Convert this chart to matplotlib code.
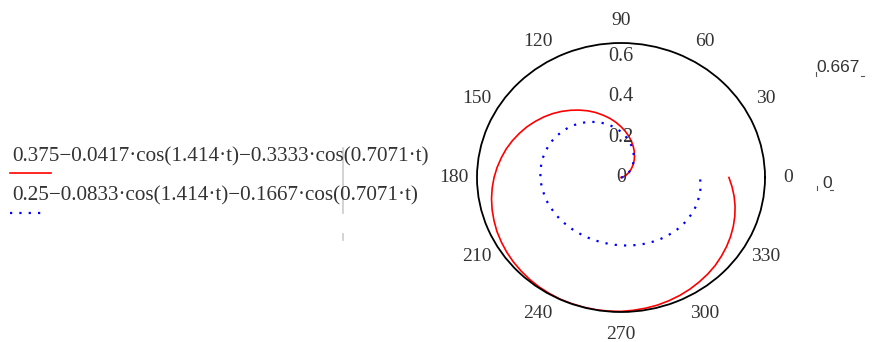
import numpy as np
import matplotlib.pyplot as plt

# angle (deg) and radius, 5 degree steps
theta_deg = list(range(0, 361, 5))
r_red = [0.000, 0.001, 0.004, 0.009, 0.015, 0.023, 0.034, 0.045, 0.059, 0.073,
         0.089, 0.107, 0.125, 0.145, 0.165, 0.186, 0.208, 0.230, 0.252, 0.275,
         0.298, 0.320, 0.343, 0.365, 0.386, 0.407, 0.428, 0.448, 0.467, 0.485,
         0.503, 0.519, 0.535, 0.550, 0.563, 0.576, 0.588, 0.599, 0.609, 0.618,
         0.626, 0.634, 0.640, 0.646, 0.651, 0.655, 0.659, 0.662, 0.664, 0.666,
         0.666, 0.666, 0.666, 0.665, 0.664, 0.661, 0.658, 0.655, 0.650, 0.645,
         0.639, 0.632, 0.625, 0.617, 0.607, 0.597, 0.586, 0.574, 0.561, 0.547,
         0.532, 0.516, 0.500]
r_blue = [0.000, 0.001, 0.004, 0.008, 0.015, 0.023, 0.033, 0.045, 0.057, 0.071,
          0.087, 0.103, 0.119, 0.137, 0.155, 0.173, 0.191, 0.209, 0.227, 0.244,
          0.260, 0.276, 0.291, 0.304, 0.317, 0.329, 0.339, 0.348, 0.355, 0.362,
          0.367, 0.371, 0.373, 0.375, 0.375, 0.375, 0.373, 0.371, 0.368, 0.365,
          0.362, 0.358, 0.354, 0.351, 0.347, 0.344, 0.341, 0.338, 0.336, 0.335,
          0.334, 0.333, 0.334, 0.335, 0.336, 0.339, 0.341, 0.344, 0.348, 0.351,
          0.355, 0.359, 0.362, 0.366, 0.369, 0.372, 0.373, 0.375, 0.375, 0.374,
          0.373, 0.370, 0.366]

angle_ticks = [0, 30, 60, 90, 120, 150, 180, 210, 240, 270, 300, 330]
r_ticks = [0, 0.2, 0.4, 0.6]
r_max = 0.667

legend_red = "0.375\u22120.0417\u00b7cos(1.414\u00b7t)\u22120.3333\u00b7cos(0.7071\u00b7t)"
legend_blue = "0.25\u22120.0833\u00b7cos(1.414\u00b7t)\u22120.1667\u00b7cos(0.7071\u00b7t)"

serif = "Liberation Serif"
txt = "#333333"

fig = plt.figure(figsize=(8.72, 3.42), dpi=100)
ax = fig.add_axes([477 / 872, 30 / 342, 288 / 872, 269 / 342], projection="polar")
ax.set_aspect("auto")

th = np.radians(theta_deg)
ax.plot(th, r_red, color="red", lw=1.2)
ax.plot(th, r_blue, color="blue", lw=1.6, dashes=(1, 3.2))

ax.set_ylim(0, r_max)
ax.grid(False)
ax.spines["polar"].set_color("black")
ax.spines["polar"].set_linewidth(1.3)
ax.set_thetagrids(angle_ticks, [str(a) for a in angle_ticks],
                  fontsize=14, family=serif, color=txt)
ax.tick_params(axis="x", pad=9.5, length=0)
ax.set_yticks([])
for rv in r_ticks:
    lab = "0" if rv == 0 else f"{rv:.1f}"
    ax.text(np.pi / 2, rv, lab, ha="center", va="center",
            fontsize=14.5, family=serif, color=txt)

# range labels on the right
fig.text(838 / 872, 1 - 68 / 342, "0.667", ha="center", va="center",
         fontsize=12.5, family="Liberation Sans", color=txt)
fig.text(827 / 872, 1 - 183 / 342, "0", ha="center", va="center",
         fontsize=12.5, family="Liberation Sans", color=txt)
for x0, y0, x1 in [(816, 76, 864), (817, 190, 833)]:
    fig.add_artist(plt.Line2D([x0 / 872] * 2, [1 - (y0 - 4) / 342, 1 - y0 / 342],
                              color="#555555", lw=0.8, transform=fig.transFigure))
    fig.add_artist(plt.Line2D([(x1 - 3) / 872, x1 / 872], [1 - y0 / 342] * 2,
                              color="#555555", lw=0.8, transform=fig.transFigure))

# legend
fig.text(12 / 872, 1 - 157 / 342, legend_red, ha="left", va="center",
         fontsize=15.2, family=serif, color=txt)
fig.text(12 / 872, 1 - 196 / 342, legend_blue, ha="left", va="center",
         fontsize=15.2, family=serif, color=txt)
fig.add_artist(plt.Line2D([10 / 872, 51 / 872], [1 - 173 / 342] * 2,
                          color="red", lw=1.2, transform=fig.transFigure))
fig.add_artist(plt.Line2D([10 / 872, 44 / 872], [1 - 213 / 342] * 2,
                          color="blue", lw=1.6, dashes=(1, 3.2),
                          transform=fig.transFigure))
fig.add_artist(plt.Line2D([343 / 872] * 2, [1 - 148 / 342, 1 - 213 / 342],
                          color="#cccccc", lw=1.2, transform=fig.transFigure))
fig.add_artist(plt.Line2D([343 / 872] * 2, [1 - 234 / 342, 1 - 240 / 342],
                          color="#cccccc", lw=1.2, transform=fig.transFigure))

fig.savefig("out.png", dpi=100)
